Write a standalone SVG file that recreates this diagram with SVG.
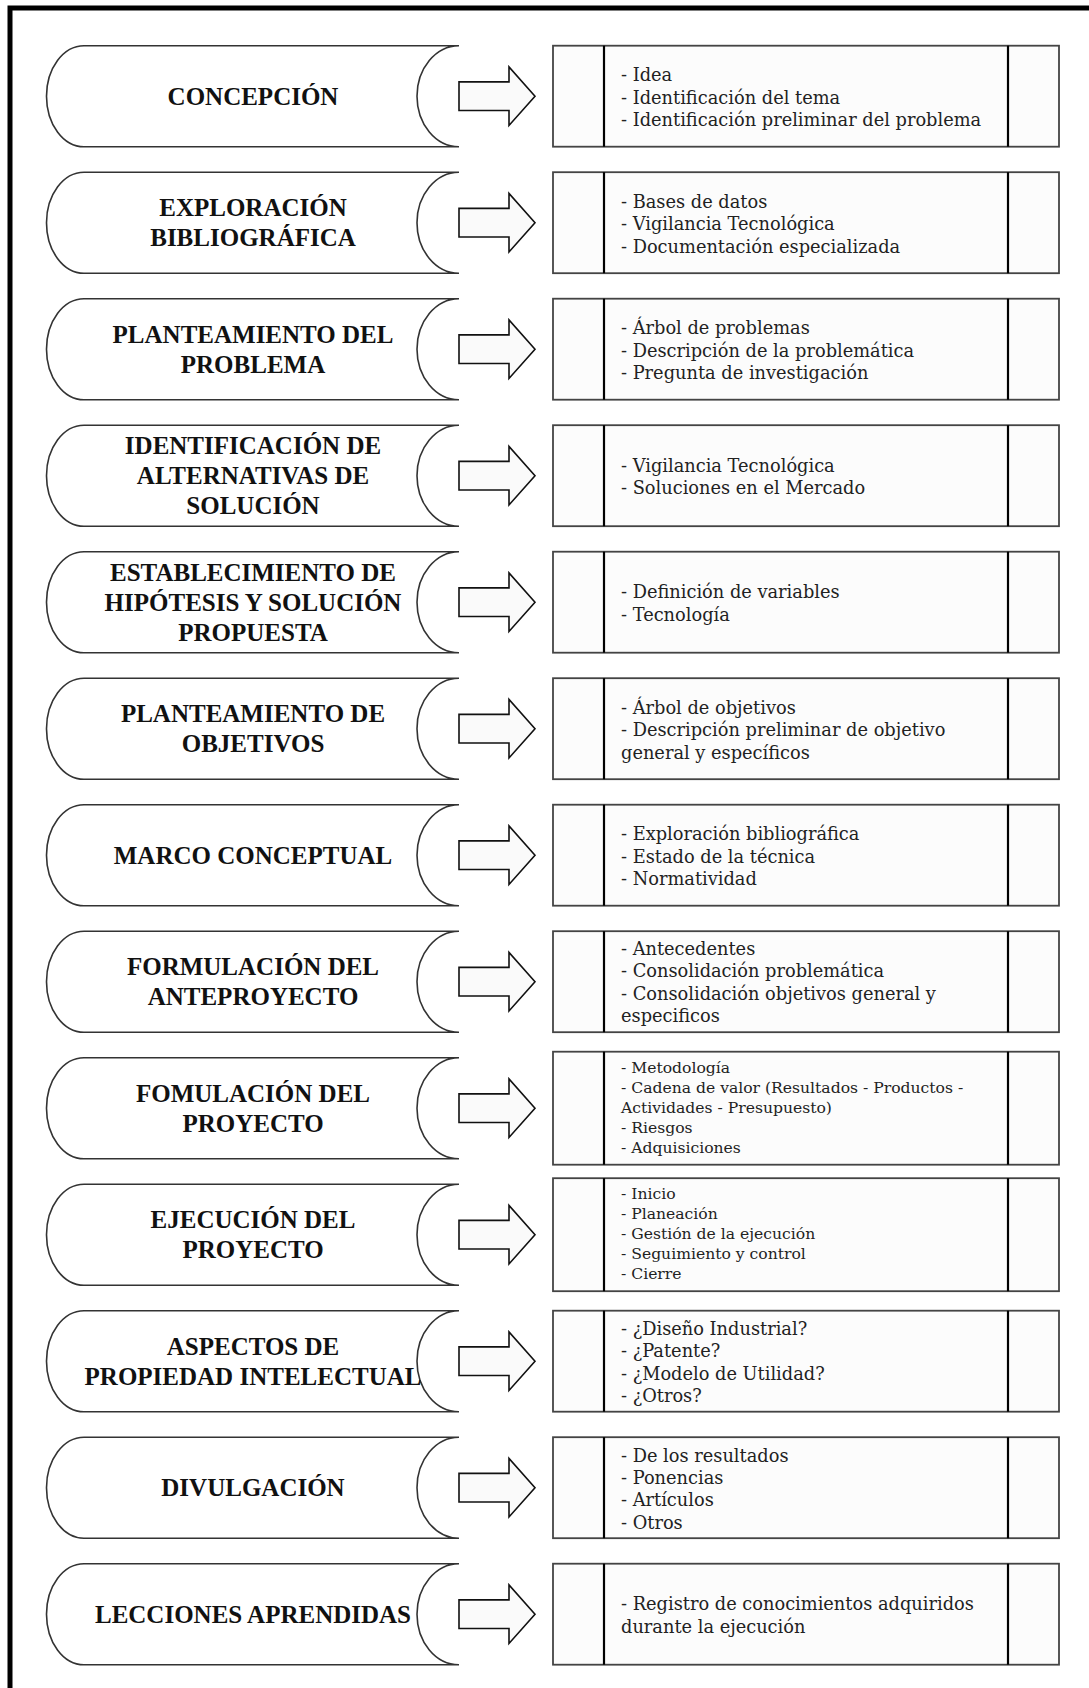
<svg xmlns="http://www.w3.org/2000/svg" xmlns:xlink="http://www.w3.org/1999/xlink" width="1089" height="1688" viewBox="0 0 1089 1688">
<style>
.frame{fill:none;stroke:#000;stroke-width:5}
.node{fill:#fff;stroke:#333;stroke-width:1.6}
.title{font-family:"Liberation Serif","Times New Roman",serif;font-weight:bold;font-size:25px;text-anchor:middle;fill:#111}
.box{fill:#fcfcfc;stroke:#444;stroke-width:1.8}
.div{stroke:#000;stroke-width:2.2}
.item{font-family:"DejaVu Serif",serif;font-size:17.8px;fill:#222}
.small{font-size:15.6px}
.arrow{fill:#fafafa;stroke:#111;stroke-width:1.6;stroke-linejoin:miter}
</style>
<defs>
<path id="shape" d="M84,0 H459 A42,50.5 0 0 0 459,101 H84 A37.5,50.5 0 0 1 84,0 Z"/>
<polygon id="arr" points="459,-14.3 509,-14.3 509,-29.3 535,0 509,29.3 509,14.3 459,14.3"/>
</defs>
<rect width="1089" height="1688" fill="#fff"/>
<path class="frame" d="M10,1688 V8 H1089"/>

<g id="node-1" transform="translate(0,45.7)"><use xlink:href="#shape" class="node"/><text class="title" x="253" y="59">CONCEPCIÓN</text></g>
<g id="node-2" transform="translate(0,172.2)"><use xlink:href="#shape" class="node"/><text class="title" x="253"><tspan x="253" y="44">EXPLORACIÓN</tspan><tspan x="253" y="74">BIBLIOGRÁFICA</tspan></text></g>
<g id="node-3" transform="translate(0,298.7)"><use xlink:href="#shape" class="node"/><text class="title"><tspan x="253" y="44">PLANTEAMIENTO DEL</tspan><tspan x="253" y="74">PROBLEMA</tspan></text></g>
<g id="node-4" transform="translate(0,425.2)"><use xlink:href="#shape" class="node"/><text class="title"><tspan x="253" y="29">IDENTIFICACIÓN DE</tspan><tspan x="253" y="59">ALTERNATIVAS DE</tspan><tspan x="253" y="89">SOLUCIÓN</tspan></text></g>
<g id="node-5" transform="translate(0,551.7)"><use xlink:href="#shape" class="node"/><text class="title"><tspan x="253" y="29">ESTABLECIMIENTO DE</tspan><tspan x="253" y="59">HIPÓTESIS Y SOLUCIÓN</tspan><tspan x="253" y="89">PROPUESTA</tspan></text></g>
<g id="node-6" transform="translate(0,678.2)"><use xlink:href="#shape" class="node"/><text class="title"><tspan x="253" y="44">PLANTEAMIENTO DE</tspan><tspan x="253" y="74">OBJETIVOS</tspan></text></g>
<g id="node-7" transform="translate(0,804.7)"><use xlink:href="#shape" class="node"/><text class="title" x="253" y="59">MARCO CONCEPTUAL</text></g>
<g id="node-8" transform="translate(0,931.2)"><use xlink:href="#shape" class="node"/><text class="title"><tspan x="253" y="44">FORMULACIÓN DEL</tspan><tspan x="253" y="74">ANTEPROYECTO</tspan></text></g>
<g id="node-9" transform="translate(0,1057.7)"><use xlink:href="#shape" class="node"/><text class="title"><tspan x="253" y="44">FOMULACIÓN DEL</tspan><tspan x="253" y="74">PROYECTO</tspan></text></g>
<g id="node-10" transform="translate(0,1184.2)"><use xlink:href="#shape" class="node"/><text class="title"><tspan x="253" y="44">EJECUCIÓN DEL</tspan><tspan x="253" y="74">PROYECTO</tspan></text></g>
<g id="node-11" transform="translate(0,1310.7)"><use xlink:href="#shape" class="node"/><text class="title"><tspan x="253" y="44">ASPECTOS DE</tspan><tspan x="253" y="74">PROPIEDAD INTELECTUAL</tspan></text></g>
<g id="node-12" transform="translate(0,1437.2)"><use xlink:href="#shape" class="node"/><text class="title" x="253" y="59">DIVULGACIÓN</text></g>
<g id="node-13" transform="translate(0,1563.7)"><use xlink:href="#shape" class="node"/><text class="title" x="253" y="59">LECCIONES APRENDIDAS</text></g>

<g id="connectors">
<use xlink:href="#arr" class="arrow" y="96.2"/>
<use xlink:href="#arr" class="arrow" y="222.7"/>
<use xlink:href="#arr" class="arrow" y="349.2"/>
<use xlink:href="#arr" class="arrow" y="475.7"/>
<use xlink:href="#arr" class="arrow" y="602.2"/>
<use xlink:href="#arr" class="arrow" y="728.7"/>
<use xlink:href="#arr" class="arrow" y="855.2"/>
<use xlink:href="#arr" class="arrow" y="981.7"/>
<use xlink:href="#arr" class="arrow" y="1108.2"/>
<use xlink:href="#arr" class="arrow" y="1234.7"/>
<use xlink:href="#arr" class="arrow" y="1361.2"/>
<use xlink:href="#arr" class="arrow" y="1487.7"/>
<use xlink:href="#arr" class="arrow" y="1614.2"/>
</g>

<g id="box-1" transform="translate(0,45.7)"><rect class="box" x="553" y="0" width="506" height="101"/><line class="div" x1="604" y1="0" x2="604" y2="101"/><line class="div" x1="1008" y1="0" x2="1008" y2="101"/>
<text class="item"><tspan x="621" y="35.6">- Idea</tspan><tspan x="621" y="58">- Identificación del tema</tspan><tspan x="621" y="80.4">- Identificación preliminar del problema</tspan></text></g>
<g id="box-2" transform="translate(0,172.2)"><rect class="box" x="553" y="0" width="506" height="101"/><line class="div" x1="604" y1="0" x2="604" y2="101"/><line class="div" x1="1008" y1="0" x2="1008" y2="101"/>
<text class="item"><tspan x="621" y="35.6">- Bases de datos</tspan><tspan x="621" y="58">- Vigilancia Tecnológica</tspan><tspan x="621" y="80.4">- Documentación especializada</tspan></text></g>
<g id="box-3" transform="translate(0,298.7)"><rect class="box" x="553" y="0" width="506" height="101"/><line class="div" x1="604" y1="0" x2="604" y2="101"/><line class="div" x1="1008" y1="0" x2="1008" y2="101"/>
<text class="item"><tspan x="621" y="35.6">- Árbol de problemas</tspan><tspan x="621" y="58">- Descripción de la problemática</tspan><tspan x="621" y="80.4">- Pregunta de investigación</tspan></text></g>
<g id="box-4" transform="translate(0,425.2)"><rect class="box" x="553" y="0" width="506" height="101"/><line class="div" x1="604" y1="0" x2="604" y2="101"/><line class="div" x1="1008" y1="0" x2="1008" y2="101"/>
<text class="item"><tspan x="621" y="46.8">- Vigilancia Tecnológica</tspan><tspan x="621" y="69.2">- Soluciones en el Mercado</tspan></text></g>
<g id="box-5" transform="translate(0,551.7)"><rect class="box" x="553" y="0" width="506" height="101"/><line class="div" x1="604" y1="0" x2="604" y2="101"/><line class="div" x1="1008" y1="0" x2="1008" y2="101"/>
<text class="item"><tspan x="621" y="46.8">- Definición de variables</tspan><tspan x="621" y="69.2">- Tecnología</tspan></text></g>
<g id="box-6" transform="translate(0,678.2)"><rect class="box" x="553" y="0" width="506" height="101"/><line class="div" x1="604" y1="0" x2="604" y2="101"/><line class="div" x1="1008" y1="0" x2="1008" y2="101"/>
<text class="item"><tspan x="621" y="35.6">- Árbol de objetivos</tspan><tspan x="621" y="58">- Descripción preliminar de objetivo</tspan><tspan x="621" y="80.4">general y específicos</tspan></text></g>
<g id="box-7" transform="translate(0,804.7)"><rect class="box" x="553" y="0" width="506" height="101"/><line class="div" x1="604" y1="0" x2="604" y2="101"/><line class="div" x1="1008" y1="0" x2="1008" y2="101"/>
<text class="item"><tspan x="621" y="35.6">- Exploración bibliográfica</tspan><tspan x="621" y="58">- Estado de la técnica</tspan><tspan x="621" y="80.4">- Normatividad</tspan></text></g>
<g id="box-8" transform="translate(0,931.2)"><rect class="box" x="553" y="0" width="506" height="101"/><line class="div" x1="604" y1="0" x2="604" y2="101"/><line class="div" x1="1008" y1="0" x2="1008" y2="101"/>
<text class="item"><tspan x="621" y="24">- Antecedentes</tspan><tspan x="621" y="46.3">- Consolidación problemática</tspan><tspan x="621" y="68.6">- Consolidación objetivos general y</tspan><tspan x="621" y="90.9">especificos</tspan></text></g>
<g id="box-9" transform="translate(0,1057.7)"><rect class="box" x="553" y="-6" width="506" height="113"/><line class="div" x1="604" y1="-6" x2="604" y2="107"/><line class="div" x1="1008" y1="-6" x2="1008" y2="107"/>
<text class="item small"><tspan x="621" y="15.3">- Metodología</tspan><tspan x="621" y="35.3">- Cadena de valor (Resultados - Productos -</tspan><tspan x="621" y="55.3">Actividades - Presupuesto)</tspan><tspan x="621" y="75.3">- Riesgos</tspan><tspan x="621" y="95.3">- Adquisiciones</tspan></text></g>
<g id="box-10" transform="translate(0,1184.2)"><rect class="box" x="553" y="-6" width="506" height="113"/><line class="div" x1="604" y1="-6" x2="604" y2="107"/><line class="div" x1="1008" y1="-6" x2="1008" y2="107"/>
<text class="item small"><tspan x="621" y="15.3">- Inicio</tspan><tspan x="621" y="35.3">- Planeación</tspan><tspan x="621" y="55.3">- Gestión de la ejecución</tspan><tspan x="621" y="75.3">- Seguimiento y control</tspan><tspan x="621" y="95.3">- Cierre</tspan></text></g>
<g id="box-11" transform="translate(0,1310.7)"><rect class="box" x="553" y="0" width="506" height="101"/><line class="div" x1="604" y1="0" x2="604" y2="101"/><line class="div" x1="1008" y1="0" x2="1008" y2="101"/>
<text class="item"><tspan x="621" y="24.4">- ¿Diseño Industrial?</tspan><tspan x="621" y="46.8">- ¿Patente?</tspan><tspan x="621" y="69.2">- ¿Modelo de Utilidad?</tspan><tspan x="621" y="91.6">- ¿Otros?</tspan></text></g>
<g id="box-12" transform="translate(0,1437.2)"><rect class="box" x="553" y="0" width="506" height="101"/><line class="div" x1="604" y1="0" x2="604" y2="101"/><line class="div" x1="1008" y1="0" x2="1008" y2="101"/>
<text class="item"><tspan x="621" y="24.4">- De los resultados</tspan><tspan x="621" y="46.8">- Ponencias</tspan><tspan x="621" y="69.2">- Artículos</tspan><tspan x="621" y="91.6">- Otros</tspan></text></g>
<g id="box-13" transform="translate(0,1563.7)"><rect class="box" x="553" y="0" width="506" height="101"/><line class="div" x1="604" y1="0" x2="604" y2="101"/><line class="div" x1="1008" y1="0" x2="1008" y2="101"/>
<text class="item"><tspan x="621" y="46.8">- Registro de conocimientos adquiridos</tspan><tspan x="621" y="69.2">durante la ejecución</tspan></text></g>
</svg>
